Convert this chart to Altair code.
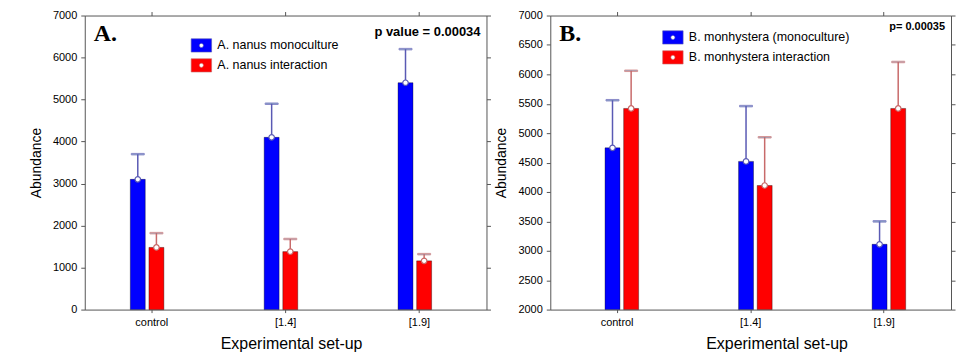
import altair as alt
import pandas as pd

categories = ["control", "[1.4]", "[1.9]"]

a_series = ["A. nanus monoculture", "A. nanus interaction"]
a_mono_mean = [3100, 4100, 5400]
a_mono_upper = [3700, 4900, 6200]
a_int_mean = [1480, 1380, 1160]
a_int_upper = [1820, 1680, 1320]

b_series = ["B. monhystera (monoculture)", "B. monhystera interaction"]
b_mono_mean = [4750, 4520, 3110]
b_mono_upper = [5560, 5460, 3500]
b_int_mean = [5420, 4110, 5420]
b_int_upper = [6060, 4930, 6210]

a_ticks = [0, 1000, 2000, 3000, 4000, 5000, 6000, 7000]
b_ticks = [2000, 2500, 3000, 3500, 4000, 4500, 5000, 5500, 6000, 6500, 7000]

a_letter = "A."
a_pval = "p value = 0.00034"
b_letter = "B."
b_pval = "p= 0.00035"

y_title = "Abundance"
x_title = "Experimental set-up"

FONT = "Liberation Sans"
FILLS = ["#0000ff", "#ff0000"]
STROKES = ["#5a5ab4", "#c86a6a"]
SYMBOL = ("M-1,-0.65L1,-0.65L1,0.65L-1,0.65Z"
          "M0.2,0A0.2,0.2 0 1,0 -0.2,0A0.2,0.2 0 1,0 0.2,0Z")


def make_df(series, mono_mean, mono_upper, int_mean, int_upper):
    rows = []
    for i, c in enumerate(categories):
        rows.append({"cat": c, "series": series[0], "mean": mono_mean[i], "upper": mono_upper[i]})
        rows.append({"cat": c, "series": series[1], "mean": int_mean[i], "upper": int_upper[i]})
    return pd.DataFrame(rows)


def panel(df, series, ticks, letter, pval, pval_size, pval_y, lx, ly, width, height, title_x):
    base = ticks[0]
    yscale = alt.Scale(domain=[ticks[0], ticks[-1]], nice=False, zero=False)
    xscale = alt.Scale(paddingInner=0.739, paddingOuter=0.37)
    xoff = alt.XOffset("series:N", sort=series,
                       scale=alt.Scale(paddingInner=0.25, paddingOuter=0))
    stroke = alt.Stroke("series:N", sort=series,
                        scale=alt.Scale(domain=series, range=STROKES), legend=None)

    bars = alt.Chart(df).mark_bar(width=15, stroke="black", strokeOpacity=0.35,
                                  strokeWidth=1).encode(
        x=alt.X("cat:N", sort=categories, scale=xscale,
                axis=alt.Axis(title=x_title, labelAngle=0, domain=False, tickSize=3,
                              labelPadding=4, titlePadding=8, titleFontSize=16,
                              titleX=title_x)),
        xOffset=xoff,
        y=alt.Y("mean:Q", scale=yscale,
                axis=alt.Axis(title=y_title, values=ticks, format="d", domain=False,
                              tickSize=4, labelPadding=4, titlePadding=9,
                              titleFontSize=14, grid=False)),
        y2=alt.datum(base),
        fill=alt.Fill("series:N", sort=series,
                      scale=alt.Scale(domain=series, range=FILLS),
                      legend=alt.Legend(orient="none", legendX=lx, legendY=ly, title=None,
                                        symbolType=SYMBOL, symbolSize=420,
                                        symbolStrokeColor="#333", symbolStrokeWidth=0.6,
                                        labelFont=FONT, labelFontSize=12.5, labelColor="black",
                                        labelLimit=400, rowPadding=1, labelOffset=5)),
    )

    rules = alt.Chart(df).mark_rule(strokeWidth=1.5).encode(
        x=alt.X("cat:N", sort=categories, scale=xscale,
                axis=alt.Axis(orient="top", labels=False, title=None, domain=False, tickSize=4)),
        xOffset=xoff,
        y=alt.Y("mean:Q", scale=yscale,
                axis=alt.Axis(orient="right", values=ticks, labels=False, title=None,
                              domain=False, tickSize=4, grid=False)),
        y2="upper:Q",
        stroke=stroke,
    )

    caps = alt.Chart(df).mark_tick(size=13, thickness=1.5).encode(
        x=alt.X("cat:N", sort=categories, scale=xscale, axis=None),
        xOffset=xoff,
        y=alt.Y("upper:Q", scale=yscale, axis=None),
        stroke=stroke,
    )

    dots = alt.Chart(df).mark_point(shape="circle", filled=False, fill="white",
                                    fillOpacity=1, size=30, strokeWidth=1.2).encode(
        x=alt.X("cat:N", sort=categories, scale=xscale, axis=None),
        xOffset=xoff,
        y=alt.Y("mean:Q", scale=yscale, axis=None),
        stroke=stroke,
    )

    letter_t = alt.Chart(pd.DataFrame({"t": [letter]})).mark_text(
        font="Liberation Serif", fontSize=24, fontWeight="bold", align="left",
        baseline="alphabetic", color="black").encode(
        text="t:N", x=alt.value(9), y=alt.value(26))

    pval_t = alt.Chart(pd.DataFrame({"t": [pval]})).mark_text(
        font=FONT, fontSize=pval_size, fontWeight="bold", align="right",
        baseline="alphabetic", color="black").encode(
        text="t:N", x=alt.value(width - 6), y=alt.value(pval_y))

    return alt.layer(bars, rules, caps, dots, letter_t, pval_t).resolve_axis(
        x="independent", y="independent").properties(width=width, height=height)


df_a = make_df(a_series, a_mono_mean, a_mono_upper, a_int_mean, a_int_upper)
df_b = make_df(b_series, b_mono_mean, b_mono_upper, b_int_mean, b_int_upper)

pa = panel(df_a, a_series, a_ticks, a_letter, a_pval, 13, 21, 106, 19, 403, 295, 207)
pb = panel(df_b, b_series, b_ticks, b_letter, b_pval, 11, 15, 112, 11, 402, 295, 227)

chart = alt.hconcat(pa, pb, spacing=3).resolve_scale(
    fill="independent", stroke="independent", x="independent", y="independent"
).resolve_legend(fill="independent").properties(
    padding={"left": 21, "top": 0, "right": 0, "bottom": 0},
    background="white",
).configure_view(stroke="#555", strokeWidth=1).configure_axis(
    labelFont=FONT, titleFont=FONT, labelFontSize=11, labelColor="black",
    titleColor="black", titleFontWeight="normal", tickColor="#555",
)

chart.save("out.html", embed_options={"renderer": "svg", "actions": False})
